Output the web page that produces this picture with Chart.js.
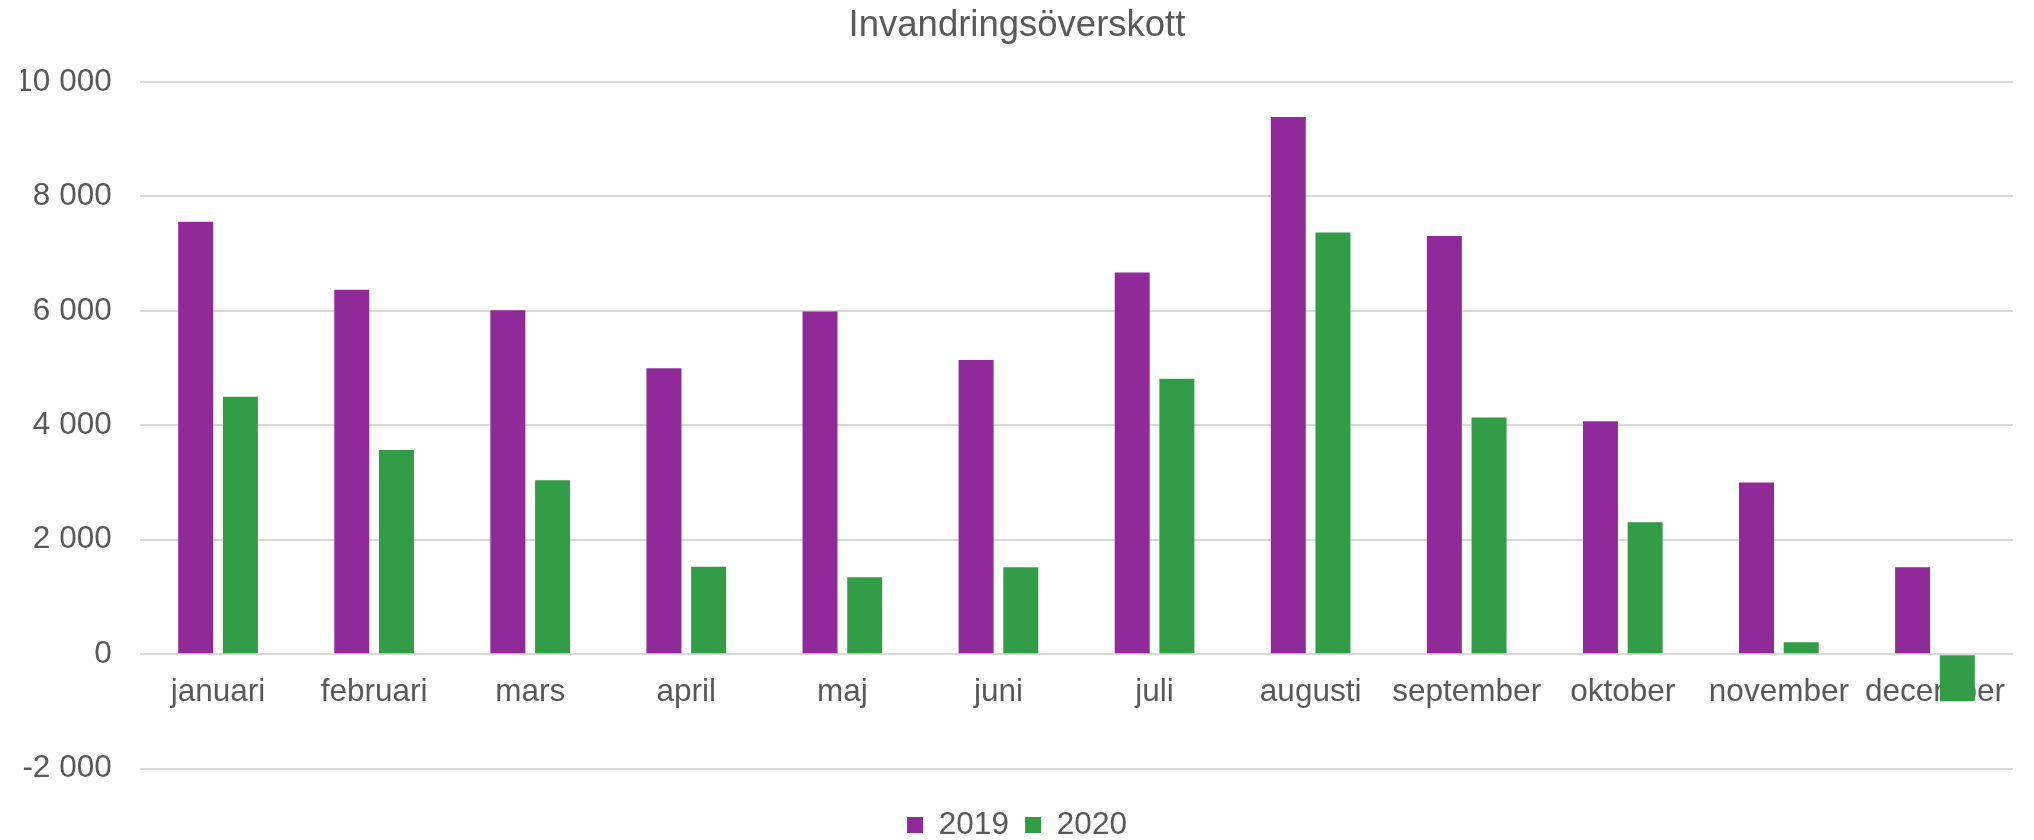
<!DOCTYPE html>
<html>
<head>
<meta charset="utf-8">
<script src="https://cdn.jsdelivr.net/npm/chart.js@4/dist/chart.umd.min.js"></script>
<style>
  html, body { margin: 0; padding: 0; background: #ffffff; }
  #wrap { width: 2034px; height: 840px; position: relative; }
</style>
</head>
<body>
<div id="wrap"><canvas id="c" width="2034" height="840"></canvas></div>
<script>
const titleText = 'Invandringsöverskott';
const categories = ['januari','februari','mars','april','maj','juni','juli','augusti','september','oktober','november','december'];
const seriesNames = ['2019','2020'];
const values2019 = [7560, 6370, 6010, 5000, 5990, 5140, 6670, 9390, 7310, 4070, 3000, 1520];
const values2020 = [4500, 3570, 3040, 1530, 1345, 1520, 4815, 7370, 4135, 2305, 210, -820];
const yTickLabels = ['-2 000', '0', '2 000', '4 000', '6 000', '8 000', '10 000'];

const textColor = '#595959';
const fontFamily = '"Liberation Sans", Arial, sans-serif';

new Chart(document.getElementById('c'), {
  type: 'bar',
  data: {
    labels: categories,
    datasets: [
      { label: seriesNames[0], data: values2019, backgroundColor: '#912A99', borderWidth: 0 },
      { label: seriesNames[1], data: values2020, backgroundColor: '#339C47', borderWidth: 0 }
    ]
  },
  options: {
    responsive: false,
    animation: false,
    devicePixelRatio: 1,
    layout: { padding: { left: 21, right: 21, top: 0, bottom: -10.75 } },
    datasets: { bar: { categoryPercentage: 0.5727, barPercentage: 0.783 } },
    plugins: {
      title: {
        display: true,
        text: titleText,
        color: textColor,
        font: { family: fontFamily, size: 36.5, weight: 'normal', lineHeight: 1.2 },
        padding: { top: 3.6, bottom: 34.6 }
      },
      legend: {
        display: true,
        position: 'bottom',
        title: { display: true, text: ' ', padding: 0, font: { family: fontFamily, size: 10, lineHeight: 2.435 } },
        labels: {
          color: textColor,
          font: { family: fontFamily, size: 31.5 },
          boxWidth: 16,
          boxHeight: 16,
          padding: 16.2
        }
      },
      tooltip: { enabled: false }
    },
    scales: {
      x: {
        position: { y: 0 },
        grid: { display: false, drawTicks: false },
        border: { display: false },
        ticks: {
          color: textColor,
          font: { family: fontFamily, size: 31.5 },
          padding: 18.8,
          maxRotation: 0,
          autoSkip: false
        }
      },
      y: {
        min: -2000,
        max: 10000,
        afterFit: (scale) => { scale.width = 119; },
        grid: { color: '#d9d9d9', lineWidth: 2, drawTicks: false },
        border: { display: false },
        ticks: {
          stepSize: 2000,
          color: textColor,
          font: { family: fontFamily, size: 31.5 },
          padding: 28.3,
          callback: (value, index) => yTickLabels[index]
        }
      }
    }
  }
});
</script>
</body>
</html>
